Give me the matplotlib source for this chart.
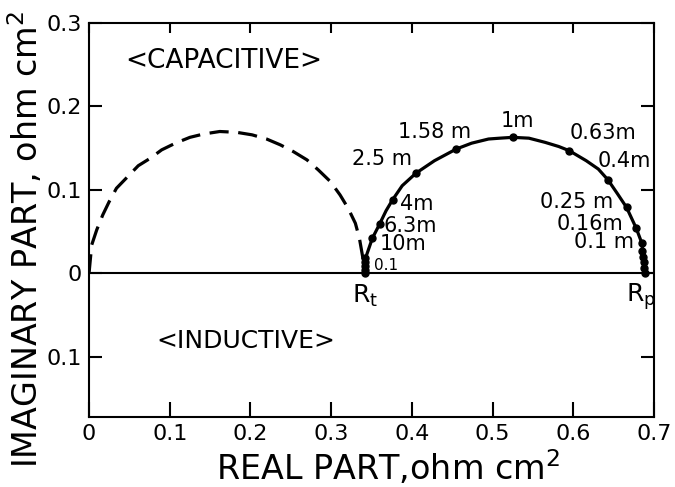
import numpy as np
import matplotlib
matplotlib.use('Agg')
from matplotlib import pyplot as plt

# solid loop (real, imaginary), ohm cm2
cReal = [0.3416, 0.3425, 0.351, 0.360, 0.368, 0.376, 0.388, 0.405, 0.428, 0.455, 0.474, 0.495, 0.509,
         0.525, 0.545, 0.565, 0.582, 0.595, 0.616, 0.631, 0.643, 0.655, 0.666, 0.678, 0.685, 0.689]
cImag = [0.0, 0.018, 0.042, 0.059, 0.075, 0.088, 0.105, 0.120, 0.135, 0.149, 0.156, 0.161, 0.162,
         0.163, 0.162, 0.157, 0.152, 0.147, 0.135, 0.125, 0.112, 0.095, 0.079, 0.054, 0.036, 0.0]

# measured points with frequency labels
pReal = [0.3425, 0.351, 0.360, 0.376, 0.405, 0.455, 0.525, 0.595, 0.643, 0.666, 0.678, 0.685]
pImag = [0.018, 0.042, 0.059, 0.088, 0.120, 0.149, 0.163, 0.147, 0.112, 0.079, 0.054, 0.036]
freqLabel = ['0.1', '10m', '6.3m', '4m', '2.5 m', '1.58 m', '1m', '0.63m', '0.4m', '0.25 m', '0.16m', '0.1 m']

# crowded points at both ends of the loop
eReal = [0.3416, 0.3418, 0.3420, 0.3423, 0.6855, 0.686, 0.687, 0.688, 0.689]
eImag = [0.0, 0.004, 0.009, 0.013, 0.027, 0.020, 0.013, 0.006, 0.0]

# dashed loop
dReal = [0.0, 0.0033, 0.0095, 0.017, 0.025, 0.034, 0.047, 0.061, 0.076, 0.090, 0.107, 0.125, 0.142, 0.162,
         0.183, 0.202, 0.220, 0.237, 0.253, 0.270, 0.284, 0.299, 0.311, 0.321, 0.330, 0.335, 0.339, 0.3416]
dImag = [0.0, 0.034, 0.052, 0.070, 0.086, 0.102, 0.115, 0.129, 0.138, 0.148, 0.156, 0.163, 0.167, 0.170,
         0.169, 0.166, 0.161, 0.154, 0.146, 0.136, 0.124, 0.110, 0.094, 0.078, 0.060, 0.042, 0.020, 0.0]

xTicks = [0, 0.1, 0.2, 0.3, 0.4, 0.5, 0.6, 0.7]
xTickLabels = ['0', '0.1', '0.2', '0.3', '0.4', '0.5', '0.6', '0.7']
yTicks = [0.3, 0.2, 0.1, 0, -0.1]
yTickLabels = ['0.3', '0.2', '0.1', '0', '0.1']

plt.rcParams['font.family'] = ['DejaVu Sans']

fig = plt.figure(figsize=(6.75, 4.87), dpi=100)
ax = fig.add_axes([0.1319, 0.1437, 0.837, 0.809])
ax.set_xlim(0, 0.7)
ax.set_ylim(-0.1722, 0.3)

ax.plot(dReal, dImag, color='black', lw=2.3, linestyle=(0, (6, 3)))
ax.plot(cReal, cImag, color='black', lw=2.3)
ax.plot(pReal, pImag, 'o', color='black', ms=5)
ax.plot(eReal, eImag, 'o', color='black', ms=5)
ax.axhline(0, color='black', lw=1.5)

# text offsets in pixels from the labelled point
offs = [(9, -7, 'left'), (7, -6, 'left'), (4, -2, 'left'), (7, -4, 'left'), (-4, 14, 'right'),
        (15, 17, 'right'), (5, 16, 'center'), (0, 18, 'left'), (-10, 19, 'left'),
        (-13, 5, 'right'), (-13, 4, 'right'), (-8, 1, 'right')]
for k in range(len(freqLabel)):
    dx, dy, ha = offs[k]
    fs = 11 if freqLabel[k] == '0.1' else 15
    ax.annotate(freqLabel[k], (pReal[k], pImag[k]), xytext=(dx, dy), textcoords='offset pixels',
                ha=ha, va='center', fontsize=fs)

ax.annotate('$\\mathregular{R_t}$', (cReal[0], 0), xytext=(0, -23), textcoords='offset pixels',
            ha='center', va='center', fontsize=18)
ax.annotate('$\\mathregular{R_p}$', (cReal[-1], 0), xytext=(-4, -23), textcoords='offset pixels',
            ha='center', va='center', fontsize=18)

ax.text(0.045, 0.254, '<CAPACITIVE>', fontsize=19, ha='left', va='center')
ax.text(0.084, -0.081, '<INDUCTIVE>', fontsize=18, ha='left', va='center')

ax.set_xticks(xTicks)
ax.set_xticklabels(xTickLabels, fontsize=16)
ax.set_yticks(yTicks)
ax.set_yticklabels(yTickLabels, fontsize=16)
ax.tick_params(direction='in', width=1.5, top=True, right=True, pad=5)
ax.tick_params(axis='y', length=9.5)
ax.tick_params(axis='x', length=7.5)
for t in ax.xaxis.get_major_ticks():
    t.tick1line.set_markersize(11)
for s in ax.spines.values():
    s.set_linewidth(1.5)

ax.set_xlabel('REAL PART,ohm cm$^\\mathregular{2}$', fontsize=24, va='baseline')
ax.xaxis.set_label_coords(0.529, -0.160)
ax.set_ylabel('IMAGINARY PART, ohm cm$^\\mathregular{2}$', fontsize=24, va='baseline')
ax.yaxis.set_label_coords(-0.0903, 0.452)

fig.savefig('out.png', dpi=100)
